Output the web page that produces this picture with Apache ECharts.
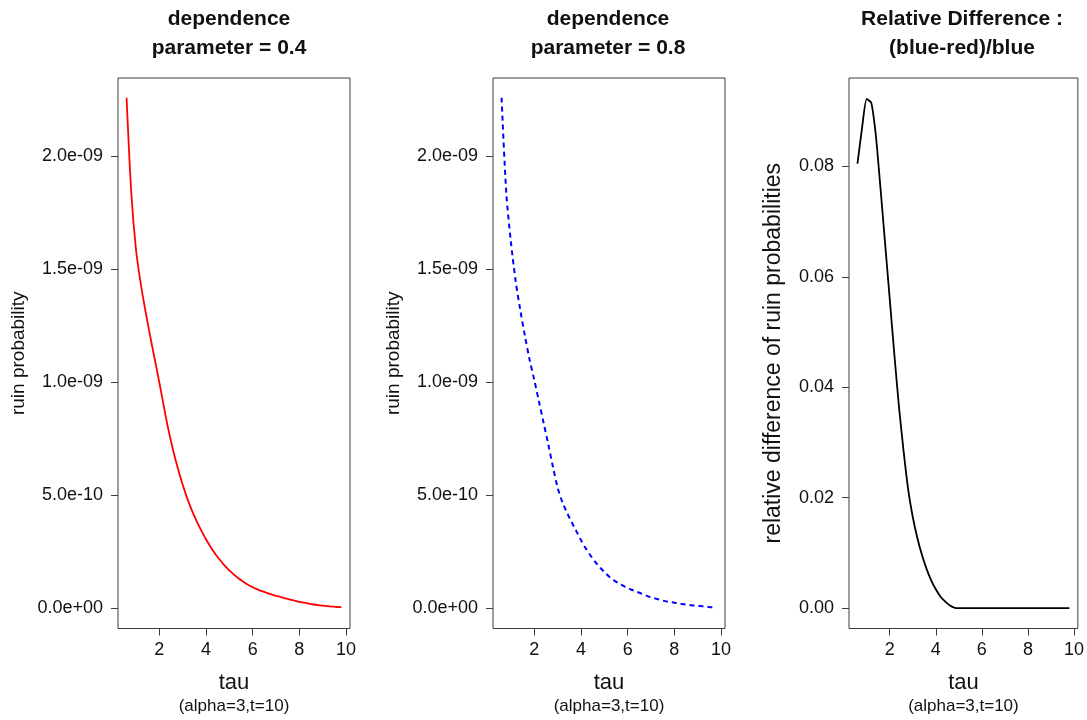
<!DOCTYPE html>
<html>
<head>
<meta charset="utf-8">
<script src="https://cdn.jsdelivr.net/npm/echarts@6/dist/echarts.min.js"></script>
<style>
  html, body { margin: 0; padding: 0; background: #fff; }
  #root { width: 1087px; height: 720px; }
</style>
</head>
<body>
<div id="root"></div>
<script>
// tau grid shared by all three panels
let tau = [0.6, 0.8, 1.0, 1.2, 1.4, 1.6, 1.8, 2.0, 2.2, 2.4, 2.6, 2.8, 3.0, 3.2, 3.4, 3.6,
    3.8, 4.0, 4.2, 4.4, 4.6, 4.8, 5.0, 5.2, 5.4, 5.6, 5.8, 6.0, 6.2, 6.4, 6.6, 6.8, 7.0,
    7.2, 7.4, 7.6, 7.8, 8.0, 8.2, 8.4, 8.6, 8.8, 9.0, 9.2, 9.4, 9.6, 9.8];
// ruin probability, dependence parameter 0.4 (units of 1e-9)
let ruinRed = [2.26, 1.84, 1.59, 1.44, 1.32, 1.21, 1.105, 1.00, 0.89, 0.786, 0.696, 0.617,
    0.547, 0.485, 0.432, 0.385, 0.343, 0.305, 0.271, 0.240, 0.213, 0.188, 0.167, 0.148,
    0.131, 0.117, 0.103, 0.0925, 0.0832, 0.0748, 0.0673, 0.0605, 0.0544, 0.049, 0.043,
    0.038, 0.033, 0.028, 0.024, 0.020, 0.016, 0.013, 0.011, 0.009, 0.007, 0.005, 0.004];
// ruin probability, dependence parameter 0.8 (units of 1e-9)
let ruinBlue = [2.26, 1.84, 1.62, 1.45, 1.32, 1.205, 1.10, 1.01, 0.915, 0.82, 0.725, 0.625,
    0.534, 0.47, 0.423, 0.381, 0.341, 0.301, 0.265, 0.234, 0.206, 0.182, 0.160, 0.140,
    0.124, 0.111, 0.100, 0.089, 0.080, 0.072, 0.0637, 0.0555, 0.048, 0.042, 0.036,
    0.031, 0.027, 0.024, 0.020, 0.017, 0.014, 0.012, 0.010, 0.008, 0.006, 0.004, 0.003];
// relative difference (blue-red)/blue
let relDiff = [0.0805, 0.0870, 0.0922, 0.0915, 0.0855, 0.0760, 0.0660, 0.0560, 0.0460,
    0.0365, 0.0285, 0.0215, 0.0165, 0.0127, 0.0096, 0.0071, 0.0050, 0.0034, 0.0021,
    0.0012, 0.0005, 0.0001, 0, 0, 0, 0, 0, 0, 0, 0, 0, 0, 0, 0, 0, 0, 0, 0, 0, 0, 0,
    0, 0, 0, 0, 0, 0];

let tauTicks = [2, 4, 6, 8, 10];
let probTicks = [0, 0.5, 1.0, 1.5, 2.0];   // units of 1e-9
let diffTicks = [0, 0.02, 0.04, 0.06, 0.08];

let titles = ['dependence\nparameter = 0.4', 'dependence\nparameter = 0.8', 'Relative Difference :\n(blue-red)/blue'];

let font = '"Liberation Sans", Arial, sans-serif';
let boxColor = '#3c3c3c';

function sciLabel(v) {
    let s = (v * 1e-9).toExponential(1);
    return s.replace(/e([+-])(\d)$/, 'e$10$2');
}

function pairs(xs, ys) {
    return xs.map((x, i) => [x, ys[i]]);
}

let grids = [
    {left: 118, top: 78, width: 232, height: 551},
    {left: 493, top: 78, width: 232, height: 551},
    {left: 849, top: 78, width: 231, height: 551}
].map(g => Object.assign(g, {show: true, borderColor: boxColor, borderWidth: 1, backgroundColor: 'transparent'}));

function xAxisFor(i) {
    return {
        type: 'value', gridIndex: i, min: 0.232, max: 10.168,
        name: '{t|tau}\n{s|(alpha=3,t=10)}', nameLocation: 'middle', nameGap: 41,
        nameTextStyle: {
            rich: {
                t: {fontSize: 22, fontFamily: font, color: '#111', lineHeight: 26},
                s: {fontSize: 17, fontFamily: font, color: '#111', lineHeight: 22}
            }
        },
        axisLine: {show: false, onZero: false},
        splitLine: {show: false},
        axisTick: {show: true, inside: false, length: 7, customValues: tauTicks, lineStyle: {color: boxColor}},
        axisLabel: {customValues: tauTicks, fontSize: 18, fontFamily: font, color: '#111', margin: 13}
    };
}

function yAxisFor(i, min, max, ticks, fmt, name, nameSize, nameGap) {
    return {
        type: 'value', gridIndex: i, min: min, max: max,
        name: name, nameLocation: 'middle', nameGap: nameGap,
        nameTextStyle: {fontSize: nameSize, fontFamily: font, color: '#111'},
        axisLine: {show: false, onZero: false},
        splitLine: {show: false},
        axisTick: {show: true, inside: false, length: 7, customValues: ticks, lineStyle: {color: boxColor}},
        axisLabel: {customValues: ticks, formatter: fmt, fontSize: 18, fontFamily: font, color: '#111', margin: 15}
    };
}

let myChart = echarts.init(document.getElementById('root'), null, {renderer: 'canvas'});

let option = {
    animation: false,
    backgroundColor: '#fff',
    title: [229, 608, 962].map((x, i) => ({
        text: titles[i], left: x, top: 5, padding: 0, textAlign: 'center',
        textStyle: {fontSize: 21, fontWeight: 'bold', fontFamily: font, color: '#111', lineHeight: 29}
    })),
    grid: grids,
    xAxis: [xAxisFor(0), xAxisFor(1), xAxisFor(2)],
    yAxis: [
        yAxisFor(0, -0.0903, 2.3473, probTicks, sciLabel, 'ruin probability', 19, 90),
        yAxisFor(1, -0.0903, 2.3473, probTicks, sciLabel, 'ruin probability', 19, 90),
        yAxisFor(2, -0.0037, 0.0960, diffTicks, v => v.toFixed(2), 'relative difference of ruin probabilities', 23, 64)
    ],
    series: [
        {
            type: 'line', xAxisIndex: 0, yAxisIndex: 0, data: pairs(tau, ruinRed),
            showSymbol: false, smooth: 0.3,
            lineStyle: {color: '#ff0000', width: 1.8}
        },
        {
            type: 'line', xAxisIndex: 1, yAxisIndex: 1, data: pairs(tau, ruinBlue),
            showSymbol: false, smooth: 0.3,
            lineStyle: {color: '#0000ff', width: 2, type: [5, 4]}
        },
        {
            type: 'line', xAxisIndex: 2, yAxisIndex: 2, data: pairs(tau, relDiff),
            showSymbol: false, smooth: 0.2,
            lineStyle: {color: '#000000', width: 1.8}
        }
    ]
};

myChart.setOption(option);
</script>
</body>
</html>
